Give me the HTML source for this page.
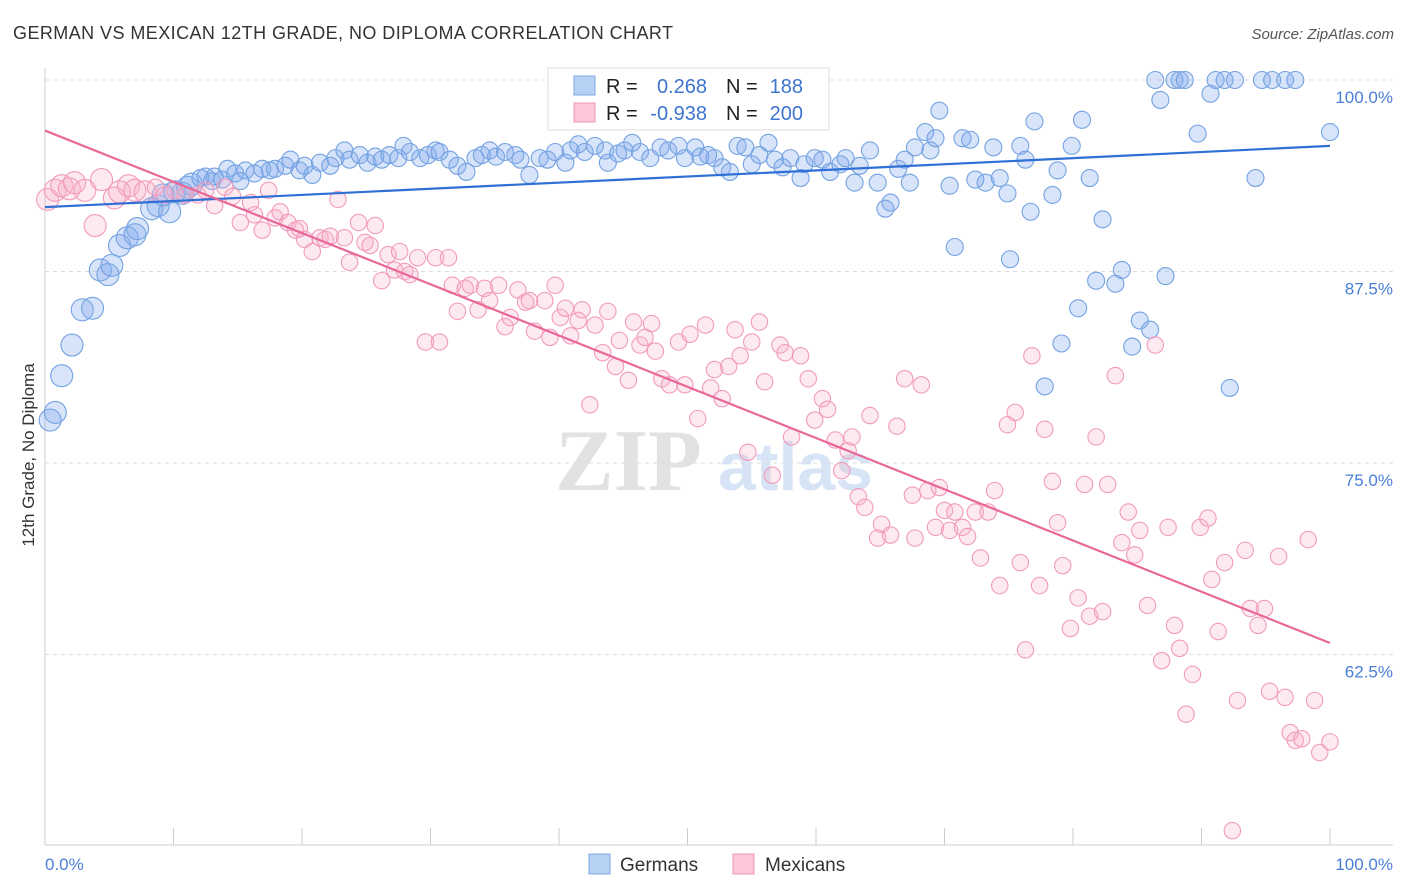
<!DOCTYPE html>
<html><head><meta charset="utf-8">
<style>
body{margin:0;background:#fff;width:1406px;height:892px;overflow:hidden;font-family:"Liberation Sans",sans-serif}
svg{display:block}
</style></head>
<body>
<svg id="chart" width="1406" height="892">
<text x="13" y="39" font-size="18" fill="#333" textLength="660">GERMAN VS MEXICAN 12TH GRADE, NO DIPLOMA CORRELATION CHART</text>
<text x="1394" y="39" font-size="15" fill="#555" font-style="italic" text-anchor="end">Source: ZipAtlas.com</text>
<text x="0" y="0" transform="translate(34,455) rotate(-90)" font-size="17" fill="#333" text-anchor="middle">12th Grade, No Diploma</text>
<g><text x="555" y="490" font-size="88" fill="#e2e2e2" font-family="Liberation Serif,serif" font-weight="bold">ZIP</text><text x="718" y="490" font-size="68" fill="#d6e4f6" font-weight="bold">atlas</text></g>
<g id="grid"></g><g id="marks"></g>
<g>
<rect x="548" y="68" width="281" height="62" fill="#fff" stroke="#ddd"/>
<rect x="574" y="76" width="21" height="19" fill="#b7d1f5" stroke="#7fa9e6"/>
<rect x="574" y="103" width="21" height="19" fill="#fcc8d8" stroke="#f093b4"/>
<text x="606" y="93" font-size="20" fill="#222">R =</text><text x="707" y="93" font-size="20" fill="#3d74cf" text-anchor="end">0.268</text>
<text x="726" y="93" font-size="20" fill="#222">N =</text><text x="803" y="93" font-size="20" fill="#3d74cf" text-anchor="end">188</text>
<text x="606" y="120" font-size="20" fill="#222">R =</text><text x="707" y="120" font-size="20" fill="#3d74cf" text-anchor="end">-0.938</text>
<text x="726" y="120" font-size="20" fill="#222">N =</text><text x="803" y="120" font-size="20" fill="#3d74cf" text-anchor="end">200</text>
</g>
<g>
<rect x="589" y="854" width="21" height="20" fill="#b7d1f5" stroke="#7fa9e6"/>
<text x="620" y="871" font-size="19" fill="#333">Germans</text>
<rect x="733" y="854" width="21" height="20" fill="#fcc8d8" stroke="#f093b4"/>
<text x="765" y="871" font-size="19" fill="#333">Mexicans</text>
</g>
</svg>
<script>
const yTicks=[100,87.5,75,62.5];
const yTickLabels=["100.0%","87.5%","75.0%","62.5%"];
const xTickLabels=["0.0%","100.0%"];
const germans=[[0.4,77.8],[0.8,78.3],[1.3,80.7],[2.1,82.7],[2.9,85.0],[3.7,85.1],[4.3,87.6],[4.9,87.3],[5.2,87.9],[5.8,89.2],[6.4,89.7],[7.0,89.9],[7.2,90.3],[8.3,91.6],[8.8,91.8],[9.7,91.4],[9.2,92.5],[10.1,92.7],[10.7,92.6],[11.1,93.0],[11.4,93.2],[12.1,93.6],[12.5,93.7],[13.0,93.4],[13.2,93.7],[13.8,93.5],[14.2,94.2],[14.8,93.9],[15.2,93.4],[15.6,94.1],[16.3,93.9],[16.9,94.2],[17.5,94.1],[17.9,94.2],[18.7,94.4],[19.1,94.8],[19.8,94.1],[20.2,94.4],[20.8,93.8],[21.4,94.6],[22.2,94.4],[22.6,94.9],[23.3,95.4],[23.7,94.8],[24.5,95.1],[25.1,94.6],[25.7,95.0],[26.2,94.8],[26.8,95.1],[27.5,94.9],[27.9,95.7],[28.4,95.3],[29.2,94.9],[29.8,95.1],[30.4,95.4],[30.7,95.3],[31.5,94.8],[32.1,94.4],[32.8,94.0],[33.5,94.9],[34.0,95.1],[34.6,95.4],[35.1,95.0],[35.8,95.3],[36.6,95.1],[37.0,94.8],[37.7,93.8],[38.5,94.9],[39.1,94.8],[39.7,95.3],[40.5,94.6],[40.9,95.4],[41.5,95.8],[42.0,95.3],[42.8,95.7],[43.6,95.4],[43.8,94.6],[44.6,95.2],[45.1,95.4],[45.7,95.9],[46.3,95.3],[47.1,94.9],[47.9,95.6],[48.5,95.4],[49.3,95.7],[49.8,94.9],[50.6,95.6],[51.0,95.0],[51.6,95.1],[52.1,94.9],[52.7,94.3],[53.3,94.0],[53.9,95.7],[54.5,95.6],[55.0,94.5],[55.6,95.1],[56.3,95.9],[56.8,94.8],[57.4,94.3],[58.0,94.9],[58.8,93.6],[59.1,94.5],[59.9,94.9],[60.5,94.8],[61.1,94.0],[61.9,94.5],[62.3,94.9],[63.0,93.3],[63.4,94.4],[64.2,95.4],[64.8,93.3],[65.4,91.6],[65.8,92.0],[66.4,94.2],[66.9,94.8],[67.3,93.3],[67.7,95.6],[68.5,96.6],[68.9,95.4],[69.3,96.2],[69.6,98.0],[70.4,93.1],[70.8,89.1],[71.4,96.2],[72.0,96.1],[72.4,93.5],[73.2,93.3],[73.8,95.6],[74.3,93.6],[74.9,92.6],[75.1,88.3],[75.9,95.7],[76.3,94.8],[76.7,91.4],[77.0,97.3],[77.8,80.0],[78.4,92.5],[78.8,94.1],[79.1,82.8],[79.9,95.7],[80.4,85.1],[80.7,97.4],[81.3,93.6],[81.8,86.9],[82.3,90.9],[83.3,86.7],[83.8,87.6],[84.6,82.6],[85.2,84.3],[86.0,83.7],[86.4,100],[86.8,98.7],[87.2,87.2],[87.9,100],[88.3,100],[88.7,100],[89.7,96.5],[90.7,99.1],[91.1,100],[91.8,100],[92.2,79.9],[92.6,100],[94.2,93.6],[94.7,100],[95.5,100],[96.5,100],[97.3,100],[100,96.6]];
const mexicans=[[0.2,92.2],[0.8,92.8],[1.3,93.1],[1.9,92.9],[2.3,93.3],[3.1,92.8],[3.9,90.5],[4.4,93.5],[5.4,92.3],[5.8,92.7],[6.5,93.1],[7.0,92.8],[7.8,92.7],[8.6,93.0],[9.3,92.5],[10.1,92.8],[10.9,92.5],[11.9,92.5],[12.5,92.8],[13.2,91.8],[14.0,93.0],[14.6,92.4],[15.2,90.7],[16.0,92.0],[16.3,91.2],[16.9,90.2],[17.4,92.8],[17.9,91.0],[18.3,91.4],[18.9,90.7],[19.5,90.2],[19.8,90.3],[20.2,89.6],[20.8,88.8],[21.4,89.7],[21.8,89.6],[22.2,89.8],[22.8,92.2],[23.3,89.7],[23.7,88.1],[24.4,90.7],[24.9,89.4],[25.3,89.2],[25.7,90.5],[26.2,86.9],[26.7,88.6],[27.2,87.6],[27.6,88.8],[28.0,87.5],[28.4,87.3],[29.0,88.4],[29.6,82.9],[30.4,88.4],[30.7,82.9],[31.4,88.4],[31.7,86.6],[32.1,84.9],[32.7,86.4],[33.1,86.6],[33.7,85.0],[34.2,86.4],[34.6,85.6],[35.3,86.6],[35.8,83.9],[36.2,84.5],[36.8,86.3],[37.4,85.5],[37.7,85.6],[38.1,83.6],[38.9,85.6],[39.3,83.2],[39.7,86.6],[40.1,84.5],[40.5,85.1],[40.9,83.3],[41.5,84.3],[41.8,85.0],[42.4,78.8],[42.8,84.0],[43.4,82.2],[43.8,84.9],[44.4,81.3],[44.7,83.0],[45.4,80.4],[45.8,84.2],[46.3,82.7],[46.7,83.2],[47.2,84.1],[47.5,82.3],[48.0,80.5],[48.6,80.1],[49.3,82.9],[49.8,80.1],[50.2,83.4],[50.8,77.9],[51.4,84.0],[51.8,79.9],[52.1,81.1],[52.7,79.2],[53.2,81.3],[53.7,83.7],[54.1,82.0],[54.7,75.7],[55.0,82.9],[55.6,84.2],[56.0,80.3],[56.6,74.2],[57.2,82.7],[57.6,82.2],[58.1,76.7],[58.8,82.0],[59.4,80.5],[59.9,77.8],[60.5,79.2],[60.9,78.5],[61.5,76.5],[62.0,74.5],[62.5,75.8],[62.8,76.7],[63.3,72.8],[63.8,72.1],[64.2,78.1],[64.8,70.1],[65.1,71.0],[65.8,70.3],[66.3,77.4],[66.9,80.5],[67.5,72.9],[67.7,70.1],[68.2,80.1],[68.7,73.2],[69.3,70.8],[69.6,73.4],[70.0,71.9],[70.4,70.6],[70.8,71.8],[71.4,70.8],[71.8,70.2],[72.4,71.8],[72.8,68.8],[73.4,71.8],[73.9,73.2],[74.3,67.0],[74.9,77.5],[75.5,78.3],[75.9,68.5],[76.3,62.8],[76.8,82.0],[77.4,67.0],[77.8,77.2],[78.4,73.8],[78.8,71.1],[79.2,68.3],[79.8,64.2],[80.4,66.2],[80.9,73.6],[81.3,65.0],[81.8,76.7],[82.3,65.3],[82.7,73.6],[83.3,80.7],[83.8,69.8],[84.3,71.8],[84.8,69.0],[85.2,70.6],[85.8,65.7],[86.4,82.7],[86.9,62.1],[87.4,70.8],[87.9,64.4],[88.3,62.9],[88.8,58.6],[89.3,61.2],[89.9,70.8],[90.5,71.4],[90.8,67.4],[91.3,64.0],[91.8,68.5],[92.4,51.0],[92.8,59.5],[93.4,69.3],[93.8,65.5],[94.4,64.4],[94.9,65.5],[95.3,60.1],[96.0,68.9],[96.5,59.7],[96.9,57.4],[97.3,56.9],[97.8,57.0],[98.3,70.0],[98.8,59.5],[100,56.8],[99.2,56.1]];
const germanTrend=[[0,91.7],[100,95.7]];
const mexicanTrend=[[0,96.7],[100,63.25]];

const NS="http://www.w3.org/2000/svg";
const X=v=>45+v*12.85;
const Y=v=>80+(100-v)*15.32;
function mk(tag,attrs,parent){const e=document.createElementNS(NS,tag);for(const k in attrs)e.setAttribute(k,attrs[k]);parent.appendChild(e);return e;}
const grid=document.getElementById('grid'),marks=document.getElementById('marks');
yTicks.forEach((t,i)=>{
 const l=mk('line',{x1:45,x2:1393,y1:Y(t),y2:Y(t),stroke:'#ddd','stroke-dasharray':'4,4'},grid);
 
 
 const tx=mk('text',{x:1393,y:Y(t)+23,'font-size':17,fill:'#4a7fd6','text-anchor':'end'},grid);
 tx.textContent=yTickLabels[i];
 
 
});
const ax=mk('line',{x1:45,x2:45,y1:68,y2:845,stroke:'#ccc'},grid);


const bx=mk('line',{x1:45,x2:1393,y1:845,y2:845,stroke:'#ccc'},grid);


for(let i=0;i<=10;i++){const t=mk('line',{x1:X(i*10),x2:X(i*10),y1:828,y2:845,stroke:'#ccc'},grid);
 
 }
xTickLabels.forEach((s,i)=>{const t=mk('text',{x:i?1393:45,y:870,'font-size':17,fill:'#4a7fd6','text-anchor':i?'end':'start'},grid);t.textContent=s;
 
 });
germans.forEach(p=>{const c=mk('circle',{cx:X(p[0]),cy:Y(p[1]),r:p[0]<12?11:8.5,fill:'rgba(130,172,235,0.32)',stroke:'#74a2e2','stroke-width':1.1},marks);
 
 });
mexicans.forEach(p=>{const c=mk('circle',{cx:X(p[0]),cy:Y(p[1]),r:p[0]<8?11:8.2,fill:'rgba(248,175,200,0.28)',stroke:'#f29abb','stroke-width':1.1},marks);
 
 });
const gl=mk('line',{x1:X(germanTrend[0][0]),y1:Y(germanTrend[0][1]),x2:X(germanTrend[1][0]),y2:Y(germanTrend[1][1]),stroke:'#2f6fd6','stroke-width':2.2},marks);


const ml=mk('line',{x1:X(mexicanTrend[0][0]),y1:Y(mexicanTrend[0][1]),x2:X(mexicanTrend[1][0]),y2:Y(mexicanTrend[1][1]),stroke:'#e8689a','stroke-width':2.2},marks);


</script>
</body></html>
